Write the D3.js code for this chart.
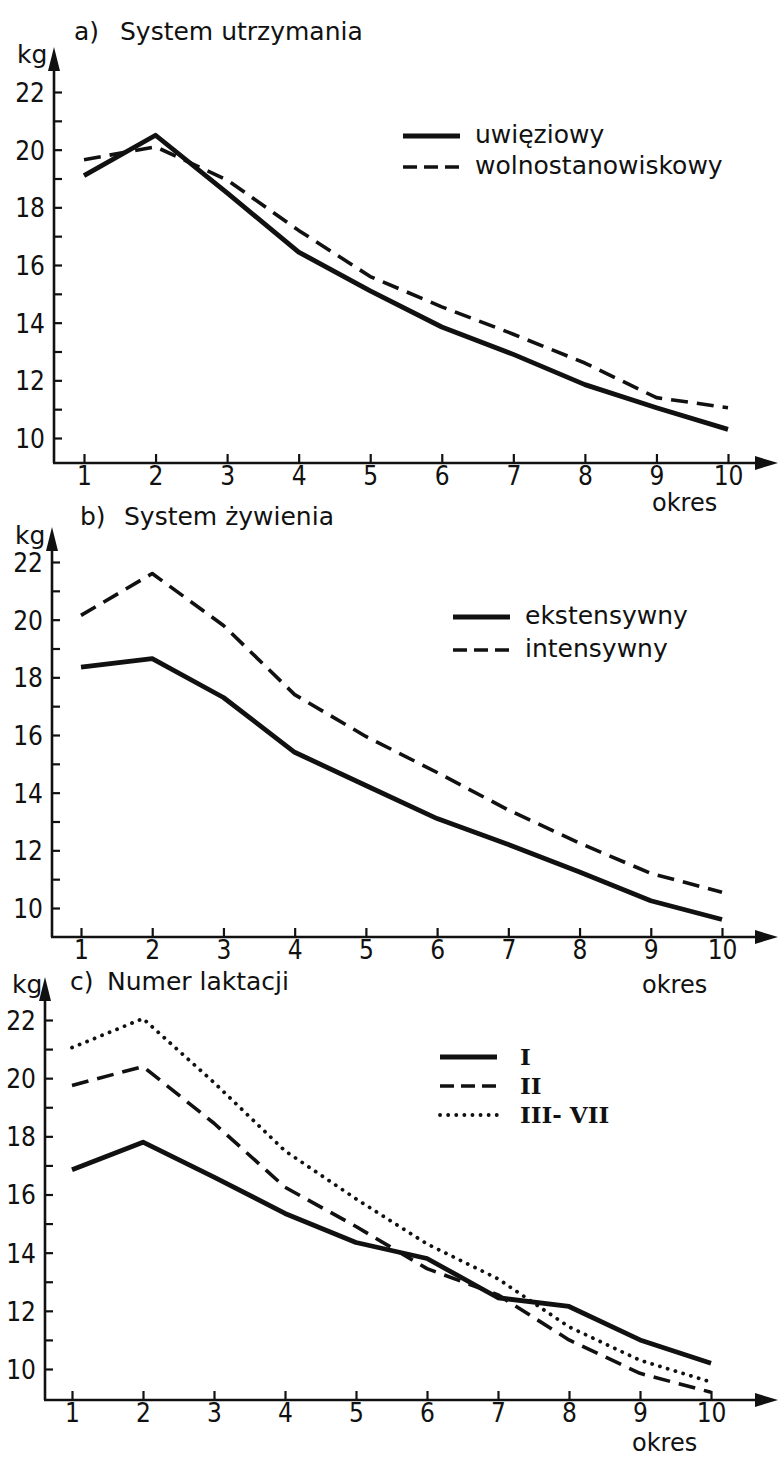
<!DOCTYPE html>
<html>
<head>
<meta charset="utf-8">
<script src="https://cdn.jsdelivr.net/npm/d3@7"></script>
<style>
  body { margin: 0; background: #fff; }
  svg { display: block; }
  text { font-family: "DejaVu Sans", sans-serif; fill: #111; }
  .tick text { font-family: "DejaVu Sans Condensed", "DejaVu Sans", sans-serif; font-stretch: condensed; font-size: 26px; }
  .roman { font-family: "DejaVu Serif", serif; font-weight: bold; font-size: 23px; }
</style>
</head>
<body>
<div id="chart"></div>
<script>
// periods on the x axis and kg ticks on the y axis
const periods = [1, 2, 3, 4, 5, 6, 7, 8, 9, 10];
const kgTicks = [10, 11, 12, 13, 14, 15, 16, 17, 18, 19, 20, 21, 22];

// a) System utrzymania
const uwieziowy = [19.1, 20.5, 18.5, 16.45, 15.1, 13.85, 12.9, 11.85, 11.05, 10.3];
const wolnostanowiskowy = [19.65, 20.1, 18.95, 17.2, 15.6, 14.55, 13.6, 12.6, 11.4, 11.05];

// b) System zywienia
const ekstensywny = [18.35, 18.65, 17.3, 15.4, 14.25, 13.1, 12.2, 11.25, 10.25, 9.6];
const intensywny = [20.15, 21.6, 19.8, 17.4, 15.95, 14.7, 13.4, 12.25, 11.2, 10.55];

// c) Numer laktacji
const laktacjaI = [16.85, 17.8, 16.6, 15.35, 14.35, 13.8, 12.45, 12.15, 11.0, 10.2];
const laktacjaII = [19.75, 20.4, 18.45, 16.25, 14.9, 13.45, 12.55, 11.0, 9.85, 9.2];
const laktacjaIII = [21.05, 22.05, 19.85, 17.5, 15.85, 14.3, 13.1, 11.45, 10.3, 9.55];

const styles = {
    solid: { width: 4.8, dash: null, legendDash: null, cap: "butt" },
    dashed: { width: 3.6, dash: "17 9", legendDash: "14 7", cap: "butt" },
    dotted: { width: 3.8, dash: "0.1 8", legendDash: "0.1 8", cap: "round" }
};

const panels = [
    {
        letter: "a)", title: "System utrzymania", titleX: 74, titleGap: 46, titleY: 40,
        kgX: 17, kgY: 63, okresX: 652, okresY: 511,
        axisX: 54, axisY: 463, top: 47, x0: 84, x1: 728, y22: 92, y10: 438,
        legendX: 403, legendY: 136, legendStep: 31, roman: false,
        series: [
            { name: "uwięziowy", values: uwieziowy, style: "solid" },
            { name: "wolnostanowiskowy", values: wolnostanowiskowy, style: "dashed" }
        ]
    },
    {
        letter: "b)", title: "System żywienia", titleX: 80, titleGap: 44, titleY: 525,
        kgX: 15, kgY: 544, okresX: 642, okresY: 993,
        axisX: 52, axisY: 937, top: 527, x0: 81, x1: 722, y22: 562, y10: 908,
        legendX: 453, legendY: 617, legendStep: 33, roman: false,
        series: [
            { name: "ekstensywny", values: ekstensywny, style: "solid" },
            { name: "intensywny", values: intensywny, style: "dashed" }
        ]
    },
    {
        letter: "c)", title: "Numer laktacji", titleX: 70, titleGap: 37, titleY: 990,
        kgX: 12, kgY: 993, okresX: 632, okresY: 1451,
        axisX: 45, axisY: 1400, top: 977, x0: 72, x1: 711, y22: 1020, y10: 1369,
        legendX: 440, legendY: 1057, legendStep: 29, roman: true,
        series: [
            { name: "I", values: laktacjaI, style: "solid" },
            { name: "II", values: laktacjaII, style: "dashed" },
            { name: "III- VII", values: laktacjaIII, style: "dotted" }
        ]
    }
];

const svg = d3.select("#chart").append("svg")
    .attr("width", 780)
    .attr("height", 1457);

panels.forEach(drawPanel);

function drawPanel(p) {
    let g = svg.append("g");
    let x = d3.scaleLinear().domain([1, 10]).range([p.x0, p.x1]);
    let y = d3.scaleLinear().domain([10, 22]).range([p.y10, p.y22]);

    // y axis: ticks every kg, labels every 2 kg, ticks point inwards
    let yAxis = g.append("g")
        .attr("transform", `translate(${p.axisX},0)`)
        .call(d3.axisLeft(y).tickValues(kgTicks).tickSize(-8).tickPadding(9)
            .tickFormat((d) => d % 2 === 0 ? d : ""));
    yAxis.select(".domain").remove();
    yAxis.selectAll(".tick line").attr("stroke", "#111").attr("stroke-width", 2.2);
    yAxis.selectAll(".tick text").attr("dy", "0.36em");

    let xAxis = g.append("g")
        .attr("transform", `translate(0,${p.axisY})`)
        .call(d3.axisBottom(x).tickValues(periods).tickSize(-9).tickPadding(4));
    xAxis.select(".domain").remove();
    xAxis.selectAll(".tick line").attr("stroke", "#111").attr("stroke-width", 2.2);

    // axis lines with arrows
    g.append("line")
        .attr("x1", p.axisX).attr("y1", p.axisY)
        .attr("x2", p.axisX).attr("y2", p.top + 15)
        .attr("stroke", "#111").attr("stroke-width", 2.6);
    g.append("line")
        .attr("x1", p.axisX - 1).attr("y1", p.axisY)
        .attr("x2", 762).attr("y2", p.axisY)
        .attr("stroke", "#111").attr("stroke-width", 2.6);
    g.append("path")
        .attr("d", `M${p.axisX},${p.top} L${p.axisX + 6},${p.top + 24} L${p.axisX - 6},${p.top + 24} Z`)
        .attr("fill", "#111");
    g.append("path")
        .attr("d", `M778,${p.axisY} L755,${p.axisY - 7} L755,${p.axisY + 7} Z`)
        .attr("fill", "#111");

    // labels
    let title = g.append("text").attr("x", p.titleX).attr("y", p.titleY).style("font-size", "25px");
    title.append("tspan").text(p.letter);
    title.append("tspan").attr("x", p.titleX + p.titleGap).text(p.title);
    g.append("text").attr("x", p.kgX).attr("y", p.kgY).style("font-size", "25px").text("kg");
    g.append("text").attr("x", p.okresX).attr("y", p.okresY).style("font-size", "24px").text("okres");

    // series lines
    let line = d3.line()
        .x((d, i) => x(periods[i]))
        .y((d) => y(d));

    p.series.forEach((s, k) => {
        let st = styles[s.style];
        g.append("path")
            .datum(s.values)
            .attr("d", line)
            .attr("fill", "none")
            .attr("stroke", "#111")
            .attr("stroke-width", st.width)
            .attr("stroke-dasharray", st.dash)
            .attr("stroke-linecap", st.cap)
            .attr("stroke-linejoin", "round");

        // legend entry
        let ly = p.legendY + k * p.legendStep;
        g.append("line")
            .attr("x1", p.legendX).attr("x2", p.legendX + 57)
            .attr("y1", ly).attr("y2", ly)
            .attr("stroke", "#111")
            .attr("stroke-width", st.width)
            .attr("stroke-dasharray", st.legendDash)
            .attr("stroke-linecap", st.cap);
        g.append("text")
            .attr("class", p.roman ? "roman" : null)
            .attr("x", p.legendX + (p.roman ? 80 : 72))
            .attr("y", ly + (p.roman ? 8 : 7))
            .style("font-size", p.roman ? null : "25px")
            .text(s.name);
    });
}
</script>
</body>
</html>
